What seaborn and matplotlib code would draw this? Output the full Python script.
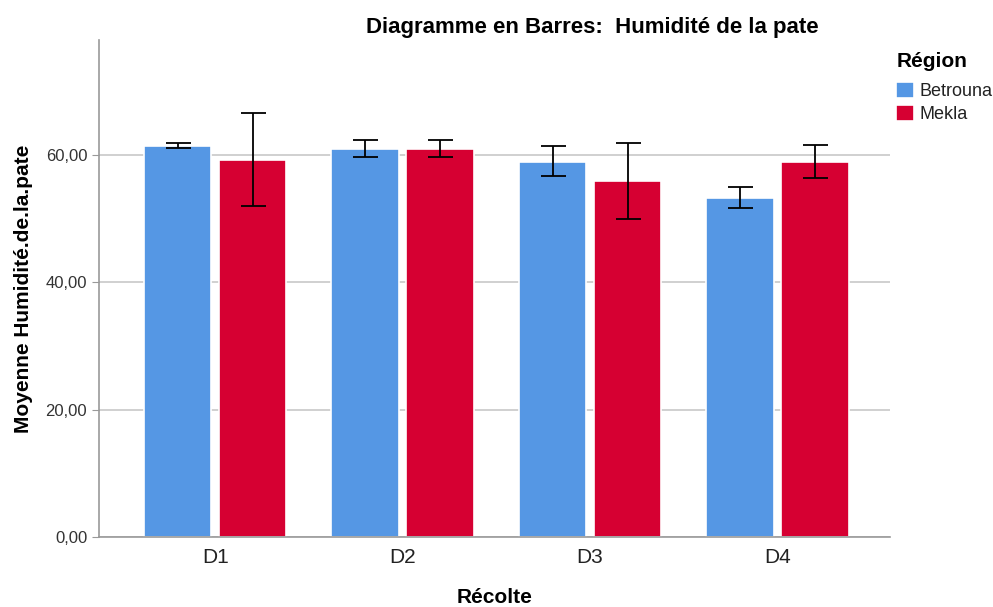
import matplotlib.pyplot as plt
import numpy as np
import pandas as pd
import seaborn as sns

# data
recoltes = ["D1", "D2", "D3", "D4"]
betrouna_mean = [61.4, 60.9, 58.9, 53.2]
betrouna_low = [61.0, 59.7, 56.6, 51.6]
betrouna_high = [61.8, 62.3, 61.3, 55.0]
mekla_mean = [59.2, 60.9, 55.9, 58.8]
mekla_low = [52.0, 59.6, 49.9, 56.3]
mekla_high = [66.5, 62.3, 61.9, 61.5]

df = pd.DataFrame({
    "Récolte": recoltes * 2,
    "Région": ["Betrouna"] * 4 + ["Mekla"] * 4,
    "moy": betrouna_mean + mekla_mean,
    "low": betrouna_low + mekla_low,
    "high": betrouna_high + mekla_high,
})

sns.set_style("white")
plt.rcParams["font.family"] = ["Liberation Sans", "DejaVu Sans"]
plt.rcParams["text.color"] = "black"
plt.rcParams["axes.labelcolor"] = "black"

fig = plt.figure(figsize=(9.93, 6.07), dpi=100)
ax = fig.add_axes([0.0997, 0.1153, 0.7966, 0.8187])

palette = {"Betrouna": "#5597E4", "Mekla": "#D60032"}
sns.barplot(data=df, x="Récolte", y="moy", hue="Région", palette=palette,
            errorbar=None, width=0.8, gap=0.1, edgecolor="white",
            linewidth=1.2, saturation=1, ax=ax, legend=True)

# asymmetric error bars placed on the bars seaborn drew
for cont, reg in zip(ax.containers, ["Betrouna", "Mekla"]):
    sub = df[df["Région"] == reg]
    xs = [p.get_x() + p.get_width() / 2 for p in cont.patches]
    ys = sub["moy"].values
    yerr = np.vstack([ys - sub["low"].values, sub["high"].values - ys])
    ax.errorbar(xs, ys, yerr=yerr, fmt="none", ecolor="black",
                elinewidth=1.3, capsize=9, capthick=1.3, zorder=5)

ax.set_ylim(0, 78)
ax.set_xlim(-0.62, 3.6)
ax.set_yticks([0, 20, 40, 60])
ax.set_yticklabels(["0,00", "20,00", "40,00", "60,00"], fontsize=12, color="#333333")
ax.tick_params(axis="y", length=5, color="#999999", left=True)
ax.tick_params(axis="x", length=0, labelsize=15, pad=8, labelcolor="#222222")
ax.yaxis.grid(True, color="#c8c8c8", linewidth=1.2)
ax.set_axisbelow(True)
for s in ["top", "right"]:
    ax.spines[s].set_visible(False)
for s in ["left", "bottom"]:
    ax.spines[s].set_color("#999999")
    ax.spines[s].set_linewidth(1.2)

ax.set_ylabel("Moyenne Humidité.de.la.pate", fontsize=15, fontweight="bold", labelpad=9)
ax.set_xlabel("Récolte", fontsize=15, fontweight="bold", labelpad=15)
fig.text(0.596, 0.955, "Diagramme en Barres:  Humidité de la pate",
         ha="center", va="center", fontsize=16, fontweight="bold")

handles, labels = ax.get_legend_handles_labels()
ax.legend_.remove()
leg = fig.legend(handles, labels, title="Région", loc="upper left",
                 bbox_to_anchor=(0.89, 0.935), frameon=False, fontsize=13,
                 title_fontproperties={"weight": "bold", "size": 15},
                 handlelength=1.0, handleheight=1.0, handletextpad=0.3,
                 labelspacing=0.25, alignment="left", borderaxespad=0.3)
leg._legend_box.sep = 8
for t in leg.get_texts():
    t.set_color("#222222")

fig.savefig("out.png", dpi=100)
